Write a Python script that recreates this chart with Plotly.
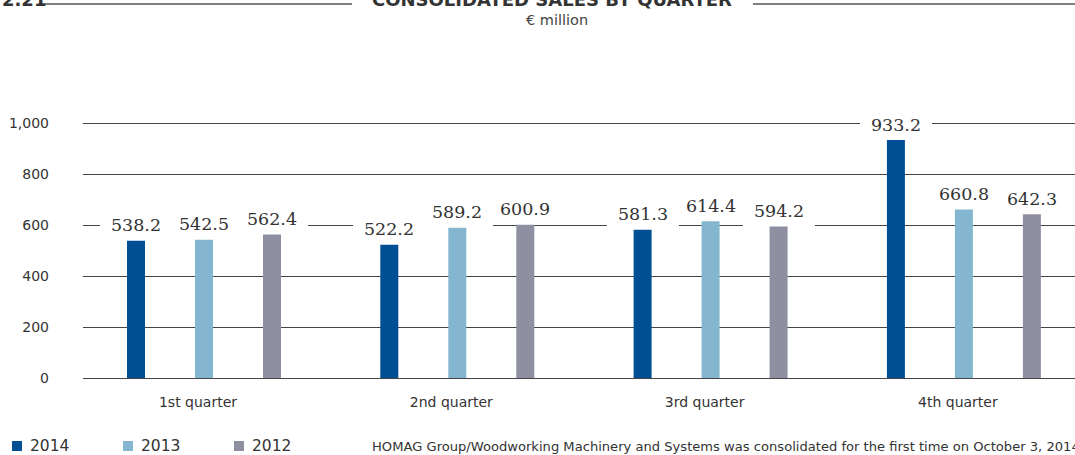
import plotly.graph_objects as go

# Consolidated sales by quarter, € million
quarters = ["1st quarter", "2nd quarter", "3rd quarter", "4th quarter"]
sales_2014 = [538.2, 522.2, 581.3, 933.2]
sales_2013 = [542.5, 589.2, 614.4, 660.8]
sales_2012 = [562.4, 600.9, 594.2, 642.3]
years = ["2014", "2013", "2012"]
colors = ["#004f95", "#84b7cf", "#8e90a2"]
y_ticks = [0, 200, 400, 600, 800, 1000]
y_ticktext = ["0", "200", "400", "600", "800", "1,000"]
footnote = ("HOMAG Group/Woodworking Machinery and Systems was consolidated "
            "for the first time on October 3, 2014")

W, H = 1075, 455
# pixel rows of the 0 and 1,000 grid lines
Y0_PX, Y1000_PX = 378, 123
PAD_PX = 2
M_L, M_R = 83, 0
M_T = Y1000_PX - PAD_PX
M_B = H - Y0_PX - PAD_PX
PLOT_W = W - M_L - M_R
PLOT_H = H - M_T - M_B
UNITS_PER_PX = 1000 / (Y0_PX - Y1000_PX)
Y_RANGE = [-PAD_PX * UNITS_PER_PX, 1000 + PAD_PX * UNITS_PER_PX]

# category pitch (px) and bar geometry inside a group
PITCH = 253.3
BAR_W = 18 / PITCH
OFFSETS = [-68 / PITCH, 0.0, 68 / PITCH]
LABEL_SHIFT = -6 / PITCH
first_center_px = 204 - M_L
x_min = -first_center_px / PITCH
x_max = x_min + PLOT_W / PITCH


def px_x(p):
    return (p - M_L) / PLOT_W


def px_y(p):
    return (H - M_B - p) / PLOT_H


fig = go.Figure()
series = [sales_2014, sales_2013, sales_2012]
annotations = []
for name, vals, col, off in zip(years, series, colors, OFFSETS):
    xs = [i + off for i in range(len(quarters))]
    fig.add_trace(go.Bar(
        x=xs, y=vals, width=BAR_W, name=name,
        marker=dict(color=col, line=dict(width=0)),
        showlegend=False, hoverinfo="y",
    ))
    for x, v in zip(xs, vals):
        annotations.append(dict(
            x=x, y=v, xref="x", yref="y", text=f"{v:.1f}",
            showarrow=False, yanchor="middle", yshift=15.5,
            font=dict(family="DejaVu Serif", size=17.5, color="#333333"),
            bgcolor="white", borderpad=3, borderwidth=0,
            width=66, height=24,
        ))

# heading line
head_font = dict(family="DejaVu Sans", size=18, color="#333333", weight="bold")
annotations += [
    dict(x=px_x(0), y=px_y(-1), xref="paper", yref="paper", text="2.21",
         showarrow=False, xanchor="left", yanchor="middle", font=head_font),
    dict(x=px_x(552), y=px_y(-1), xref="paper", yref="paper",
         text="CONSOLIDATED SALES BY QUARTER",
         showarrow=False, xanchor="center", yanchor="middle", font=head_font),
    dict(x=px_x(557), y=px_y(20), xref="paper", yref="paper", text="€ million",
         showarrow=False, xanchor="center", yanchor="middle",
         font=dict(family="DejaVu Sans", size=14.5, color="#444444")),
    dict(x=px_x(370), y=px_y(446), xref="paper", yref="paper", text=footnote,
         showarrow=False, xanchor="left", yanchor="middle",
         font=dict(family="DejaVu Sans", size=13.1, color="#333333")),
]

shapes = [
    dict(type="line", xref="paper", yref="paper", x0=px_x(38), x1=px_x(352),
         y0=px_y(4), y1=px_y(4), line=dict(color="#555555", width=1.5)),
    dict(type="line", xref="paper", yref="paper", x0=px_x(753), x1=px_x(1075),
         y0=px_y(4), y1=px_y(4), line=dict(color="#555555", width=1.5)),
]

# legend
legend_x = [12, 123, 234]
for name, col, lx in zip(years, colors, legend_x):
    shapes.append(dict(type="rect", xref="paper", yref="paper",
                       x0=px_x(lx), x1=px_x(lx + 10),
                       y0=px_y(451), y1=px_y(441),
                       fillcolor=col, line=dict(width=0)))
    annotations.append(dict(x=px_x(lx + 16), y=px_y(446), xref="paper", yref="paper",
                            text=name, showarrow=False, xanchor="left",
                            yanchor="middle",
                            font=dict(family="DejaVu Sans", size=15.5,
                                      color="#333333")))

fig.update_layout(
    width=W, height=H,
    margin=dict(l=M_L, r=M_R, t=M_T, b=M_B, pad=0),
    paper_bgcolor="white", plot_bgcolor="white",
    barmode="overlay",
    xaxis=dict(range=[x_min, x_max],
               tickvals=[i + LABEL_SHIFT for i in range(len(quarters))],
               ticktext=quarters, showgrid=False, zeroline=False,
               showline=False, ticks="", ticklabelstandoff=12,
               tickfont=dict(family="DejaVu Sans", size=14, color="#333333")),
    yaxis=dict(range=Y_RANGE, tickvals=y_ticks, ticktext=y_ticktext,
               showgrid=True, gridcolor="#444444", gridwidth=1,
               zeroline=False, showline=False, ticks="",
               ticklabelstandoff=33,
               tickfont=dict(family="DejaVu Sans", size=14, color="#333333")),
    annotations=annotations, shapes=shapes,
)

fig.write_html("out.html")
